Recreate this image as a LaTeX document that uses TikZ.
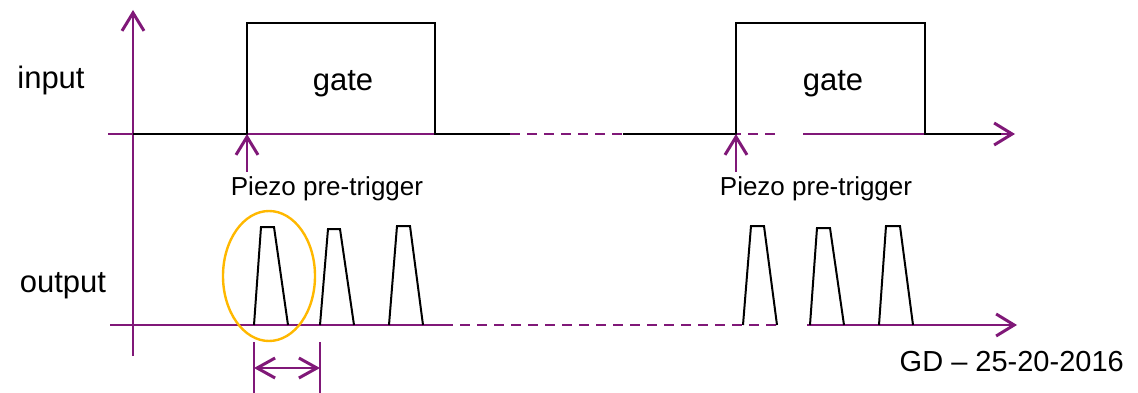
\documentclass[tikz,border=0pt]{standalone}
\usepackage{fontspec}
\setmainfont{Liberation Sans}
\usetikzlibrary{arrows.meta}
\definecolor{axispurple}{RGB}{128,24,120}
\definecolor{ringorange}{RGB}{255,184,0}
\tikzset{
  axisline/.style={draw=axispurple, line width=2pt},
  sig/.style={draw=black, line width=2.2pt},
  pulseline/.style={draw=black, line width=2pt},
  barb/.style={-{Straight Barb[length=18pt,width=22pt,line width=3pt]}},
  gapline/.style={dash pattern=on 10pt off 7pt},
  biglbl/.style={font=\fontsize{31}{36}\selectfont, inner sep=0pt, anchor=base},
  smalllbl/.style={font=\fontsize{26}{30}\selectfont, inner sep=0pt, anchor=base},
}

\begin{document}
\begin{tikzpicture}[x=1pt,y=-1pt]
\useasboundingbox (0,0) rectangle (1138,393);

\node[biglbl] (input) at (51,89) {input};
\node[biglbl] (output) at (63,292) {output};
\node[biglbl] (gate1) at (343,91) {gate};
\node[biglbl] (gate2) at (833,91) {gate};
\node[smalllbl] (piezo1) at (327,195) {Piezo pre-trigger};
\node[smalllbl] (piezo2) at (816,195) {Piezo pre-trigger};
\node[biglbl, anchor=base east, font=\fontsize{29}{34}\selectfont] (stamp) at (1124,371) {GD -- 25-20-2016};

\coordinate (vbot) at (133,356);
\coordinate (vtop) at (133,10);
\coordinate (trig1) at (247,134);
\coordinate (trig2) at (736,134);
\coordinate (tail1) at (247,172);
\coordinate (tail2) at (736,172);
\coordinate (mark1) at (254,368);
\coordinate (mark2) at (320,368);

\draw[axisline, line width=2.8pt, barb] (vbot) -- (vtop);
\draw[axisline] (108,134) -- (510,134);
\draw[axisline, gapline] (510,134) -- (780,134);
\draw[axisline, barb] (803,134) -- (1015,134);
\draw[axisline] (110,325) -- (443,325);
\draw[axisline, gapline] (443,325) -- (782,325);
\draw[axisline, barb] (807,325) -- (1017,325);

\draw[sig] (133,134) -- (trig1) -- (247,23) -- (435,23) -- (435,134) -- (510,134);
\draw[sig] (623,134) -- (trig2) -- (736,23) -- (925,23) -- (925,134) -- (1001,134);

\draw[axisline, line width=2.6pt, barb] (tail1) -- (trig1);
\draw[axisline, line width=2.6pt, barb] (tail2) -- (trig2);

\draw[pulseline] (254,325) -- ++(7,-98) -- ++(13,0) -- ++(14,98);
\draw[pulseline] (320,325) -- ++(8,-96) -- ++(12,0) -- ++(14,96);
\draw[pulseline] (389,325) -- ++(8,-99) -- ++(13,0) -- ++(13,99);
\draw[pulseline] (743,325) -- ++(8,-99) -- ++(13,0) -- ++(13,99);
\draw[pulseline] (810,325) -- ++(7,-97) -- ++(13,0) -- ++(14,97);
\draw[pulseline] (879,325) -- ++(7,-99) -- ++(14,0) -- ++(13,99);

\draw[ringorange, line width=2.4pt] (269,276) ellipse [x radius=46, y radius=65];

\draw[axisline, line width=1.6pt] (254,342) -- (254,393);
\draw[axisline, line width=1.6pt] (320,342) -- (320,393);
\draw[axisline, line width=2.4pt, {Straight Barb[length=18pt,width=20pt,line width=3pt]}-{Straight Barb[length=18pt,width=20pt,line width=3pt]}] (mark1) -- (mark2);
\end{tikzpicture}
\end{document}
